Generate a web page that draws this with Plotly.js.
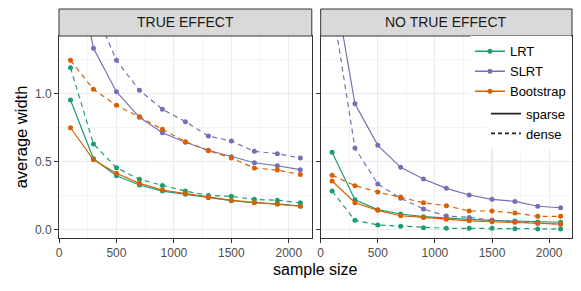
<!DOCTYPE html>
<html>
<head>
<meta charset="utf-8">
<script src="https://cdn.plot.ly/plotly-3.0.1.min.js"></script>
<style>html,body{margin:0;padding:0;background:#fff;}#chart{width:581px;height:291px;}</style>
</head>
<body>
<div id="chart"></div>
<script>
const sampleSize = [100, 300, 500, 700, 900, 1100, 1300, 1500, 1700, 1900, 2100];
const methods = ["LRT", "SLRT", "Bootstrap"];
const methodColors = ["#1B9E77", "#7570B3", "#D95F02"];
const designs = ["sparse", "dense"];
const panels = ["TRUE EFFECT", "NO TRUE EFFECT"];
const xTickVals = [0, 500, 1000, 1500, 2000];
const xTickText = ["0", "500", "1000", "1500", "2000"];
const yTickVals = [0, 0.5, 1.0];
const yTickText = ["0.0", "0.5", "1.0"];

// TRUE EFFECT
const lrtSparseTrue  = [0.953, 0.520, 0.395, 0.327, 0.282, 0.258, 0.233, 0.211, 0.196, 0.187, 0.172];
const lrtDenseTrue   = [1.192, 0.629, 0.454, 0.369, 0.324, 0.282, 0.250, 0.243, 0.221, 0.214, 0.196];
const slrtSparseTrue = [2.200, 1.335, 1.015, 0.826, 0.712, 0.642, 0.583, 0.536, 0.491, 0.469, 0.440];
const slrtDenseTrue  = [2.600, 1.640, 1.246, 1.025, 0.885, 0.794, 0.688, 0.651, 0.575, 0.558, 0.526];
const bootSparseTrue = [0.749, 0.513, 0.413, 0.339, 0.290, 0.265, 0.238, 0.213, 0.199, 0.186, 0.170];
const bootDenseTrue  = [1.246, 1.032, 0.914, 0.830, 0.737, 0.646, 0.580, 0.526, 0.452, 0.437, 0.405];

// NO TRUE EFFECT
const lrtSparseNo  = [0.568, 0.218, 0.145, 0.113, 0.093, 0.081, 0.074, 0.066, 0.061, 0.054, 0.052];
const lrtDenseNo   = [0.282, 0.066, 0.032, 0.022, 0.012, 0.007, 0.007, 0.007, 0.005, 0.003, 0.003];
const slrtSparseNo = [1.900, 0.926, 0.619, 0.457, 0.371, 0.302, 0.253, 0.221, 0.206, 0.170, 0.159];
const slrtDenseNo  = [1.660, 0.600, 0.334, 0.229, 0.150, 0.098, 0.088, 0.066, 0.056, 0.044, 0.037];
const bootSparseNo = [0.356, 0.196, 0.140, 0.100, 0.088, 0.074, 0.063, 0.056, 0.052, 0.044, 0.039];
const bootDenseNo  = [0.398, 0.322, 0.275, 0.238, 0.196, 0.174, 0.135, 0.135, 0.120, 0.096, 0.096];

const seriesByPanel = [
  [[lrtSparseTrue, lrtDenseTrue], [slrtSparseTrue, slrtDenseTrue], [bootSparseTrue, bootDenseTrue]],
  [[lrtSparseNo, lrtDenseNo], [slrtSparseNo, slrtDenseNo], [bootSparseNo, bootDenseNo]]
];

const FONT = "Liberation Sans, Arial, Helvetica, sans-serif";
const dashFor = {sparse: "solid", dense: "5px,4px"};

const traces = [];
seriesByPanel.forEach((panel, p) => {
  panel.forEach((pair, m) => {
    pair.forEach((vals, d) => {
      traces.push({
        type: "scatter", mode: "lines+markers",
        x: sampleSize, y: vals,
        xaxis: p === 0 ? "x" : "x2", yaxis: p === 0 ? "y" : "y2",
        line: {color: methodColors[m], width: 1.2, dash: dashFor[designs[d]]},
        marker: {color: methodColors[m], size: 5},
        showlegend: false, hoverinfo: "skip"
      });
    });
  });
});
// legend entries
methods.forEach((name, m) => {
  traces.push({
    type: "scatter", mode: "lines+markers", x: [null], y: [null],
    xaxis: "x2", yaxis: "y2", name: name, legend: "legend",
    line: {color: methodColors[m], width: 1.5}, marker: {color: methodColors[m], size: 5}
  });
});
designs.forEach((name) => {
  traces.push({
    type: "scatter", mode: "lines", x: [null], y: [null],
    xaxis: "x2", yaxis: "y2", name: name, legend: "legend2",
    line: {color: "#222222", width: 1.8, dash: name === "dense" ? "4px,3px" : "solid"}
  });
});

const xBase = {
  range: [0, 2200], tickvals: xTickVals, ticktext: xTickText,
  showgrid: true, gridcolor: "#EBEBEB", gridwidth: 1.1,
  minor: {dtick: 250, tick0: 0, showgrid: true, gridcolor: "#EDEDED", gridwidth: 0.6},
  zeroline: false, showline: true, mirror: true, linecolor: "#333333", linewidth: 1,
  ticks: "outside", ticklen: 4, tickwidth: 1, tickcolor: "#333333",
  tickfont: {family: FONT, size: 12, color: "#4D4D4D"}
};
const yBase = {
  range: [-0.064, 1.4255], tickvals: yTickVals, ticktext: yTickText,
  showgrid: true, gridcolor: "#EBEBEB", gridwidth: 1.1,
  minor: {dtick: 0.25, tick0: 0, showgrid: true, gridcolor: "#EDEDED", gridwidth: 0.6},
  zeroline: false, showline: true, mirror: true, linecolor: "#333333", linewidth: 1,
  ticks: "outside", ticklen: 4, tickwidth: 1, tickcolor: "#333333",
  tickfont: {family: FONT, size: 12, color: "#4D4D4D"}
};

const stripTop = 1 + 27 / 202;
const shapes = [];
const annotations = [];
["x", "x2"].forEach((xa, i) => {
  shapes.push({type: "rect", xref: xa + " domain", yref: "paper", x0: 0, x1: 1, y0: 1, y1: stripTop,
    fillcolor: "#D9D9D9", line: {color: "#333333", width: 1}});
  annotations.push({xref: xa + " domain", yref: "paper", x: 0.5, y: (1 + stripTop) / 2,
    text: panels[i], showarrow: false, xanchor: "center", yanchor: "middle",
    font: {family: FONT, size: 14, color: "#1A1A1A"}});
});
annotations.push({xref: "paper", yref: "paper", x: 0.5, y: -0.158, text: "sample size",
  showarrow: false, xanchor: "center", yanchor: "middle", font: {family: FONT, size: 16, color: "#000000"}});

const layout = {
  width: 581, height: 291,
  margin: {l: 59, r: 9, t: 36, b: 53},
  paper_bgcolor: "#FFFFFF", plot_bgcolor: "#FFFFFF",
  font: {family: FONT},
  xaxis: Object.assign({}, xBase, {domain: [0, 0.4928], anchor: "y"}),
  xaxis2: Object.assign({}, xBase, {domain: [0.5101, 1], anchor: "y2"}),
  yaxis: Object.assign({}, yBase, {domain: [0, 1], anchor: "x",
    title: {text: "average width", font: {family: FONT, size: 16.5, color: "#000000"}, standoff: 3}}),
  yaxis2: Object.assign({}, yBase, {domain: [0, 1], anchor: "x2", showticklabels: false}),
  legend: {x: 0.998, xanchor: "right", y: 0.998, yanchor: "top", bgcolor: "#FFFFFF",
    font: {family: FONT, size: 13, color: "#000000"}, itemwidth: 30, tracegroupgap: 0},
  legend2: {x: 0.998, xanchor: "right", y: 0.69, yanchor: "top", bgcolor: "#FFFFFF",
    font: {family: FONT, size: 13, color: "#000000"}, itemwidth: 30, tracegroupgap: 0},
  shapes: shapes, annotations: annotations,
  showlegend: true
};

Plotly.newPlot("chart", traces, layout, {displayModeBar: false, staticPlot: true});
</script>
</body>
</html>
